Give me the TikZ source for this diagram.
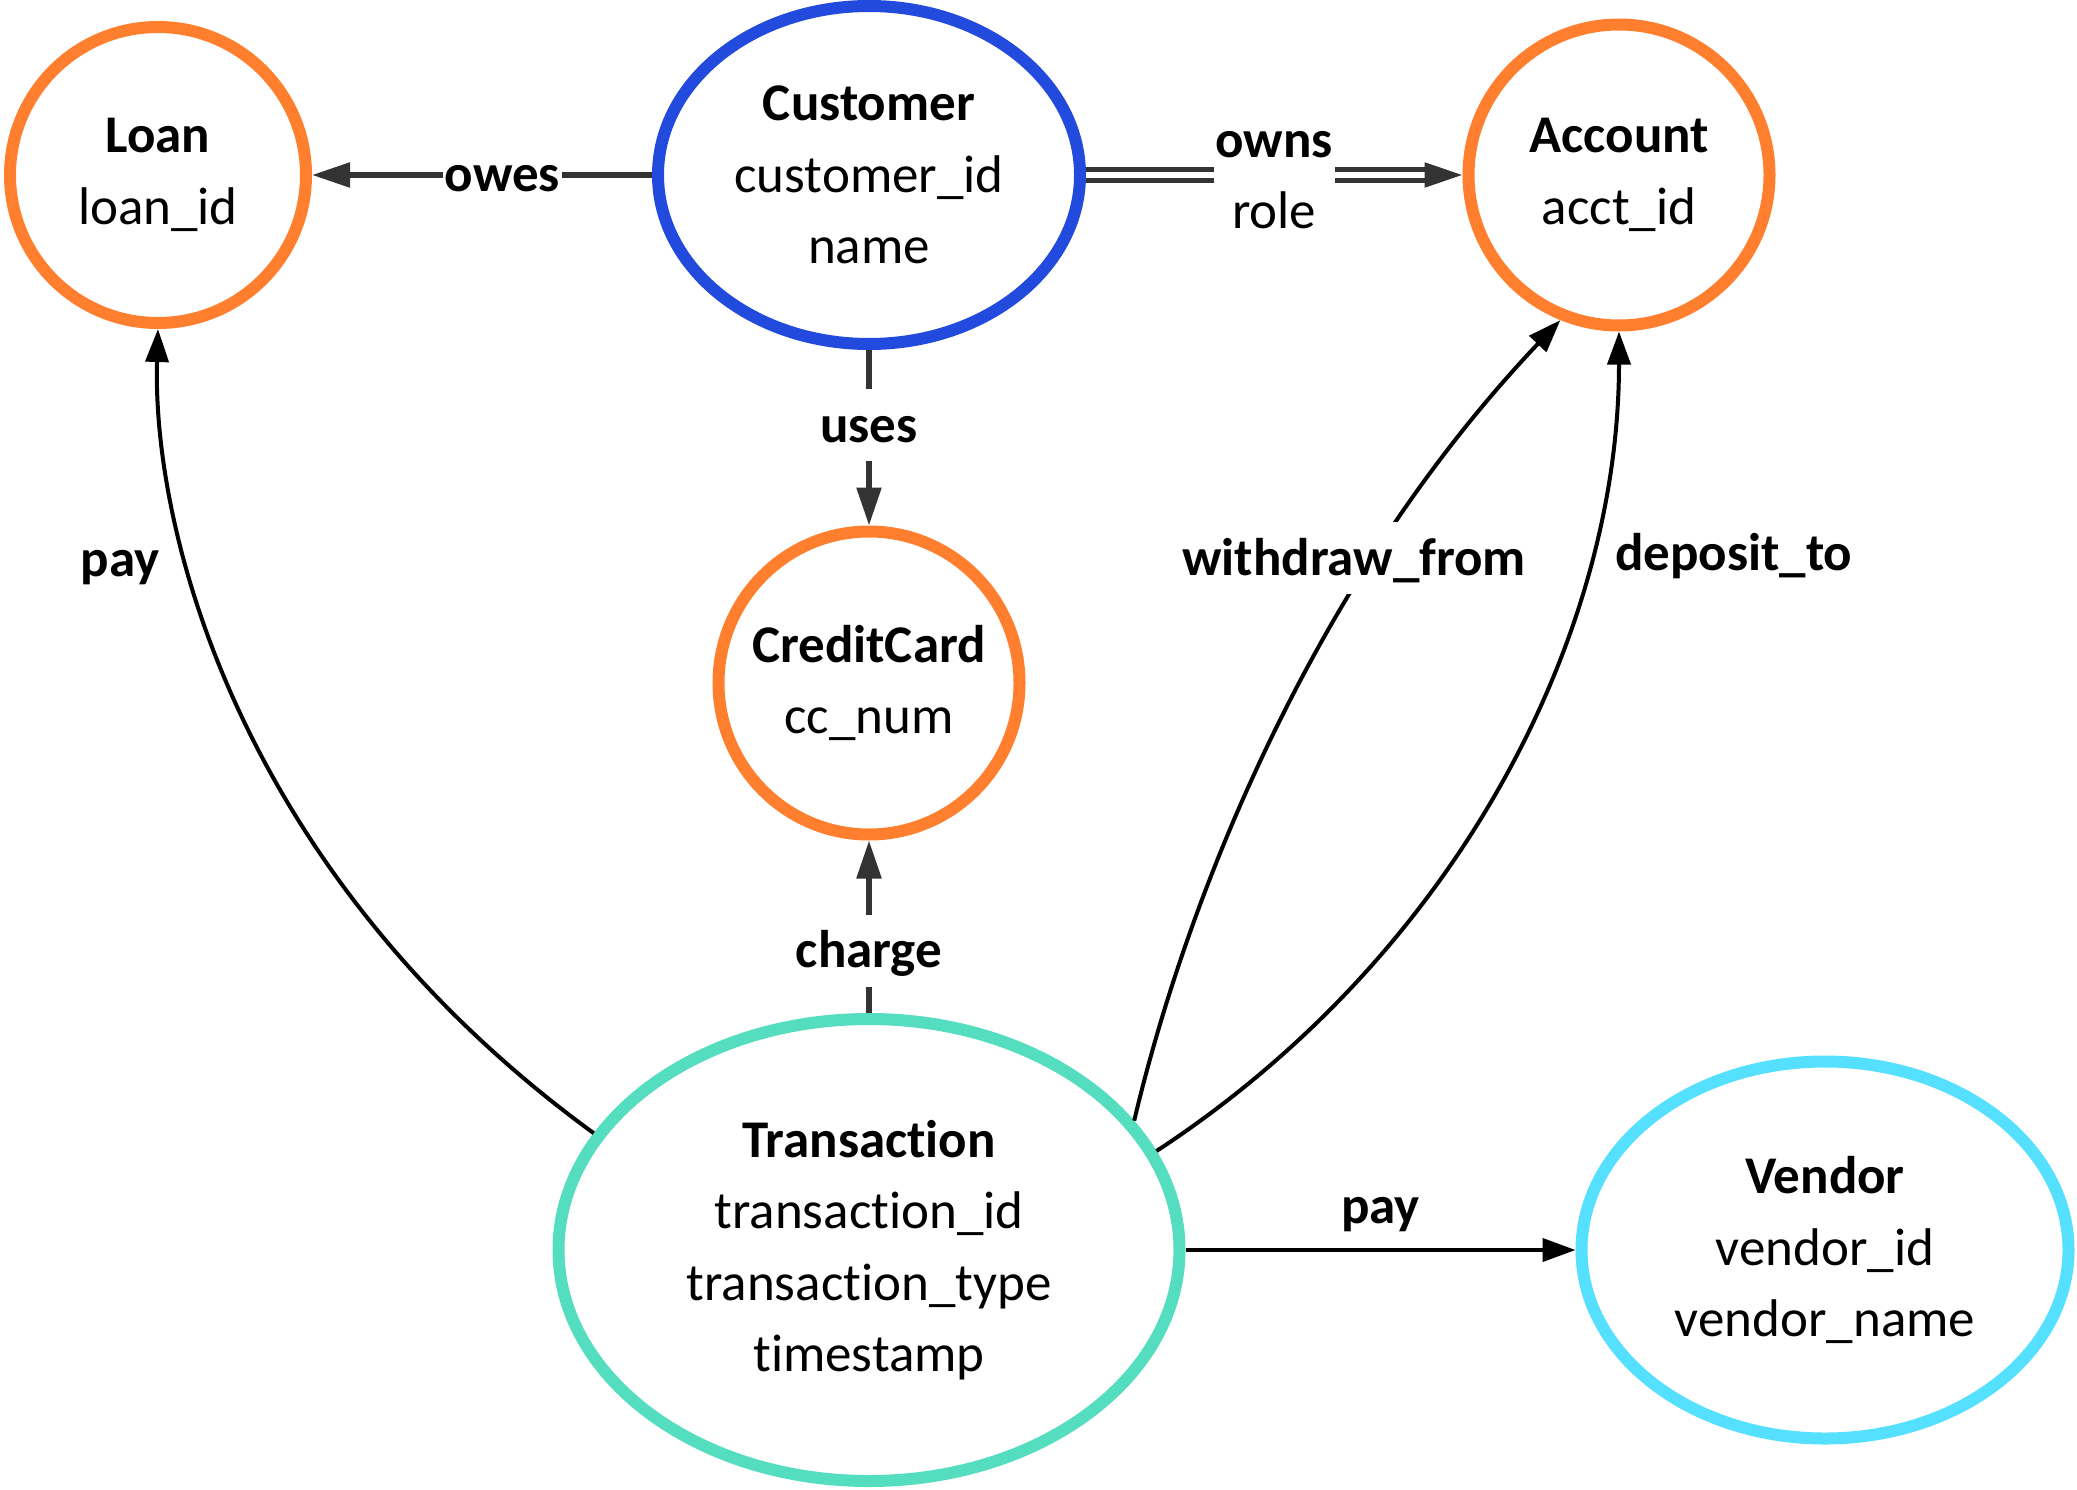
\documentclass[tikz,border=0pt]{standalone}
\usepackage{fontspec}
\setmainfont{Carlito}[Ligatures={NoCommon}]
\usetikzlibrary{arrows.meta,shapes.geometric}
\definecolor{eorange}{HTML}{FF7F2F}
\definecolor{eblue}{HTML}{224BDD}
\definecolor{eteal}{HTML}{55DDC0}
\definecolor{ecyan}{HTML}{55E0FF}
\definecolor{egray}{HTML}{333333}
\newcommand\entfont{\fontsize{53}{71.5}\selectfont}
\begin{document}
\begin{tikzpicture}[x=1pt,y=-1pt,
  ent/.style={ellipse, draw, line width=12pt, inner sep=-60pt, align=center, font=\entfont},
  grayedge/.style={draw=egray, line width=5.5pt, -{Triangle[length=38pt,width=24pt]}},
  graydouble/.style={draw=egray, double=white, line width=5pt, double distance=6pt},
  blkedge/.style={draw=black, line width=4pt, -{Triangle[length=33pt,width=23pt]}},
  lbl/.style={fill=white, inner xsep=2pt, inner ysep=10pt, text height=43pt, text depth=9pt, font=\entfont\bfseries},
  lbltwo/.style={fill=white, inner xsep=2pt, inner ysep=0pt, align=center, font=\entfont},
  plainlbl/.style={inner sep=0pt, text height=38pt, text depth=14pt, font=\entfont\bfseries}]
\useasboundingbox (0,0) rectangle (2077,1490);

\node[ent, draw=eorange, minimum width=296pt, minimum height=296pt] (loan) at (158,175) {\textbf{Loan}\\loan\_id};
\node[ent, draw=eblue, minimum width=422pt, minimum height=338pt] (cust) at (869,175) {\textbf{Customer}\\customer\_id\\name};
\node[ent, draw=eorange, minimum width=301pt, minimum height=301pt] (acct) at (1619,175) {\textbf{Account}\\acct\_id};
\node[ent, draw=eorange, minimum width=301pt, minimum height=303pt] (cc) at (869,683) {\textbf{CreditCard}\\cc\_num};
\node[ent, draw=eteal, minimum width=621pt, minimum height=462pt] (trans) at (869,1250) {\textbf{Transaction}\\transaction\_id\\transaction\_type\\timestamp};
\node[ent, draw=ecyan, minimum width=487pt, minimum height=377pt] (vendor) at (1825,1250) {\textbf{Vendor}\\vendor\_id\\vendor\_name};

% gray edges
\draw[grayedge] (cust.west) -- node[lbl, pos=0.44] {owes} (loan.east);
\draw[graydouble, shorten >=36pt] (cust.east) -- node[lbltwo, pos=0.5, yshift=-5pt] {\textbf{owns}\\role} (acct.west);
\draw[grayedge] ([xshift=-38pt]acct.west) -- (acct.west);
\draw[grayedge] (cust.south) -- node[lbl, pos=0.43] {uses} (cc.north);
\draw[grayedge] (trans.north) -- node[lbl, pos=0.36] {charge} (cc.south);

% black edges
\draw[blkedge] (trans.157) .. controls (238,874) and (152,530) .. (loan.south)
  node[plainlbl, pos=0.68, anchor=east, xshift=-25pt, yshift=-6pt] {pay};
\draw[blkedge] (trans.26) .. controls (1186,901) and (1311,583) .. (acct.248)
  node[lbl, pos=0.7, xshift=-14pt, yshift=9pt] {withdraw\_from};
\draw[blkedge] (trans.19) .. controls (1457,954) and (1619,636) .. (acct.south)
  node[plainlbl, pos=0.75, anchor=west, xshift=24pt, yshift=2pt] {deposit\_to};
\draw[blkedge] (trans.east) -- node[plainlbl, above, inner ysep=11pt] {pay} (vendor.west);
\end{tikzpicture}
\end{document}
